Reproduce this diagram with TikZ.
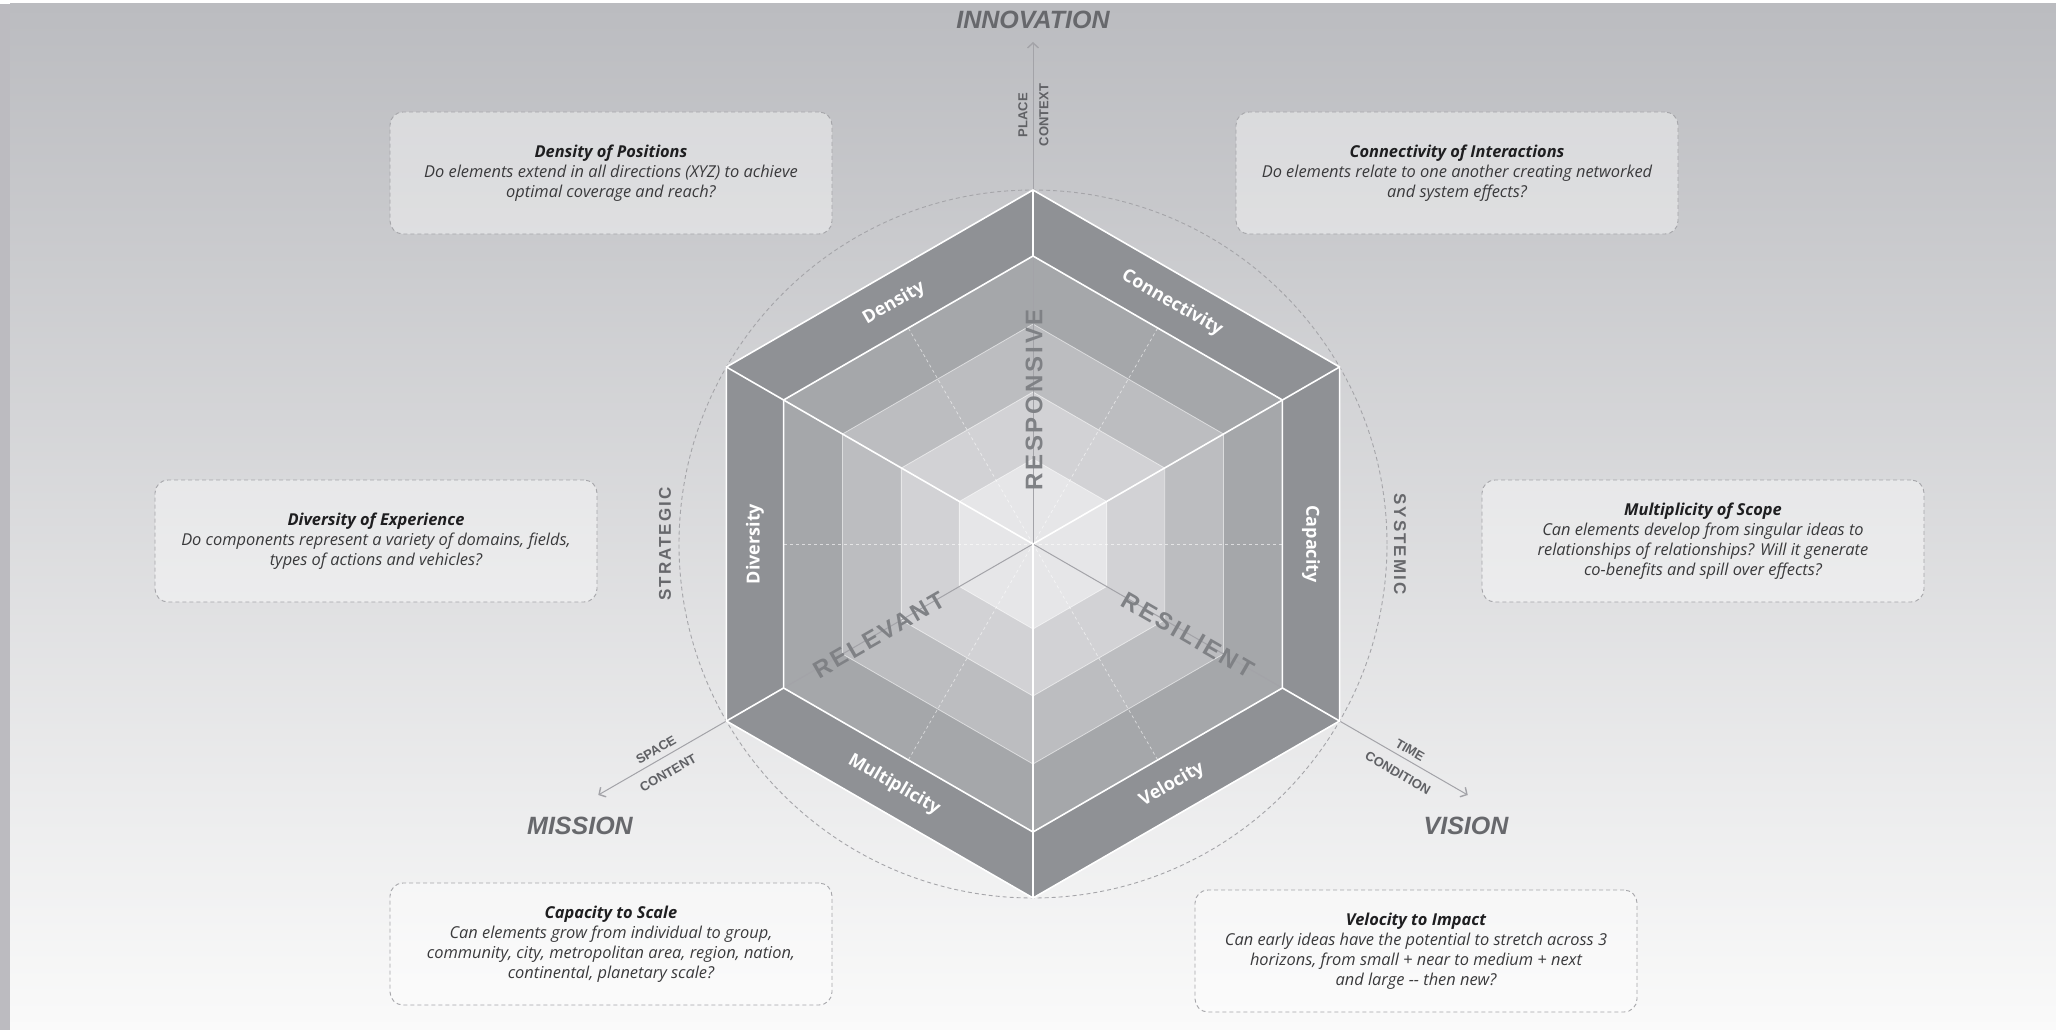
\documentclass[tikz,border=0pt]{standalone}
\usepackage{fontspec}
\setmainfont{Open Sans}
\newfontfamily\hv{Liberation Sans}
\newfontfamily\hvls[LetterSpace=12]{Liberation Sans}
\usetikzlibrary{arrows.meta,calc}
\definecolor{bgtop}{HTML}{BBBCC0}
\definecolor{bgbot}{HTML}{FAFAFA}
\definecolor{strip}{HTML}{BCBBC0}
\definecolor{bandA}{HTML}{8F9195}
\definecolor{bandB}{HTML}{A5A7AA}
\definecolor{bandC}{HTML}{BCBDC0}
\definecolor{bandD}{HTML}{D2D2D5}
\definecolor{bandE}{HTML}{E6E6E8}
\definecolor{labgray}{HTML}{67686C}
\definecolor{smallgray}{HTML}{606165}
\definecolor{biggray}{HTML}{7F8185}
\definecolor{boxline}{HTML}{A5A5A9}
\definecolor{axisgray}{HTML}{A3A3A8}
\definecolor{bodytext}{HTML}{3A3A3C}
\definecolor{titletext}{HTML}{1E1E20}
\newcommand\hexpath[1]{(90:#1) -- (150:#1) -- (210:#1) -- (270:#1) -- (330:#1) -- (30:#1) -- cycle}
\begin{document}
\begin{tikzpicture}[x=1pt,y=1pt,
  qbox/.style={draw=boxline, dash pattern=on 4pt off 3pt, line width=0.9pt, rounded corners=13pt,
    fill=white, fill opacity=0.4, text opacity=1, minimum width=442pt, minimum height=122pt,
    align=center, text=bodytext, font=\fontsize{16.4}{20}\selectfont\itshape},
  ringlab/.style={text=white, font=\fontsize{18}{18}\selectfont\bfseries},
  bigaxis/.style={text=labgray, font=\hv\bfseries\itshape\fontsize{25}{25}\selectfont},
  smalllab/.style={text=smallgray, font=\hv\bfseries\fontsize{13}{13}\selectfont, inner sep=1pt},
  sidelab/.style={text=labgray, font=\hvls\bfseries\fontsize{17}{17}\selectfont},
  biglab/.style={text=biggray, font=\hvls\bfseries\fontsize{24}{24}\selectfont},
  axisline/.style={draw=axisgray, line width=1pt},
  axisarrow/.style={axisline, -{Straight Barb[length=5pt,width=11pt,line width=1.4pt]}},
  whiteedge/.style={draw=white, line width=1.6pt}]
\useasboundingbox (0,0) rectangle (2056,-1030);
% background
\fill[white] (0,0) rectangle (2056,-1030);
\fill[strip] (0,-4) rectangle (10,-1030);
\shade[top color=bgtop, bottom color=bgbot] (10,-4) rectangle (2056,-1030);

\begin{scope}[shift={(1033,-544)}]
  \coordinate (ctr) at (0,0);
  % dashed circle
  \draw[boxline, dash pattern=on 4pt off 3pt, line width=0.9pt] (ctr) circle[radius=354];
  % hexagon bands
  \fill[bandA] \hexpath{354};
  \fill[bandB] \hexpath{288};
  \fill[bandC] \hexpath{220};
  \fill[bandD] \hexpath{152};
  \fill[bandE] \hexpath{85};
  % inner ring outlines
  \foreach \r in {220,152,85} \draw[white, opacity=0.55, line width=0.8pt] \hexpath{\r};
  % dashed spokes to edge midpoints
  \foreach \a in {0,60,...,300} \draw[white, opacity=0.6, dash pattern=on 3pt off 3pt, line width=0.7pt] (ctr) -- (\a:249);
  % axes
  \coordinate (tipN) at (90:502);
  \coordinate (tipSW) at (210:502);
  \coordinate (tipSE) at (330:502);
  \draw[axisarrow] (ctr) -- (tipN);
  \draw[axisarrow] (ctr) -- (tipSW);
  \draw[axisarrow] (ctr) -- (tipSE);
  % white outlines
  \draw[whiteedge] \hexpath{354};
  \draw[whiteedge] \hexpath{288};
  \foreach \a in {30,90,...,330} \draw[whiteedge] (\a:288) -- (\a:354);
  \draw[whiteedge] (ctr) -- (150:288);
  \draw[whiteedge] (ctr) -- (30:288);
  \draw[whiteedge] (ctr) -- (270:288);
  % ring labels
  \node[ringlab, rotate=30]  (lDensity) at (120:278) {Density};
  \node[ringlab, rotate=-30] (lConn)    at (60:278)  {Connectivity};
  \node[ringlab, rotate=-90] (lCap)     at (0:278)   {Capacity};
  \node[ringlab, rotate=30]  (lVel)     at (300:278) {Velocity};
  \node[ringlab, rotate=-30] (lMult)    at (240:278) {Multiplicity};
  \node[ringlab, rotate=90]  (lDiv)     at (180:278) {Diversity};
  % big labels
  \node[biglab, rotate=90]  (lResp) at (1,144)   {RESPONSIVE};
  \node[biglab, rotate=30]  (lRel)  at (-154,-91) {RELEVANT};
  \node[biglab, rotate=-30] (lRes)  at (155,-91)  {RESILIENT};
\end{scope}

% axis end labels
\node[bigaxis] (innov) at (1033,-20) {INNOVATION};
\node[bigaxis] (miss)  at (580,-826) {MISSION};
\node[bigaxis] (vis)   at (1466,-826) {VISION};
\node[smalllab, rotate=90] (place) at (1023,-115) {PLACE};
\node[smalllab, rotate=90] (cont)  at (1044,-115) {CONTEXT};
\node[smalllab, rotate=30] (space)   at (656,-750) {SPACE};
\node[smalllab, rotate=30] (content) at (668,-773) {CONTENT};
\node[smalllab, rotate=-30] (time) at (1410,-750) {TIME};
\node[smalllab, rotate=-30] (cond) at (1398,-773) {CONDITION};
\node[sidelab, rotate=90]  (strat) at (665,-544) {STRATEGIC};
\node[sidelab, rotate=-90] (syst)  at (1400,-544) {SYSTEMIC};

% question boxes
\node[qbox] (bDensity) at (611,-173) {{\bfseries\color{titletext}Density of Positions}\\Do elements extend in all directions (XYZ) to achieve\\optimal coverage and reach?};
\node[qbox] (bConn) at (1457,-173) {{\bfseries\color{titletext}Connectivity of Interactions}\\Do elements relate to one another creating networked\\and system effects?};
\node[qbox] (bDiv) at (376,-541) {{\bfseries\color{titletext}Diversity of Experience}\\Do components represent a variety of domains, fields,\\types of actions and vehicles?};
\node[qbox] (bMult) at (1703,-541) {{\bfseries\color{titletext}Multiplicity of Scope}\\Can elements develop from singular ideas to\\relationships of relationships? Will it generate\\co-benefits and spill over effects?};
\node[qbox] (bCap) at (611,-944) {{\bfseries\color{titletext}Capacity to Scale}\\Can elements grow from individual to group,\\community, city, metropolitan area, region, nation,\\continental, planetary scale?};
\node[qbox] (bVel) at (1416,-951) {{\bfseries\color{titletext}Velocity to Impact}\\Can early ideas have the potential to stretch across 3\\horizons, from small + near to medium + next\\and large -{}- then new?};
\end{tikzpicture}
\end{document}
